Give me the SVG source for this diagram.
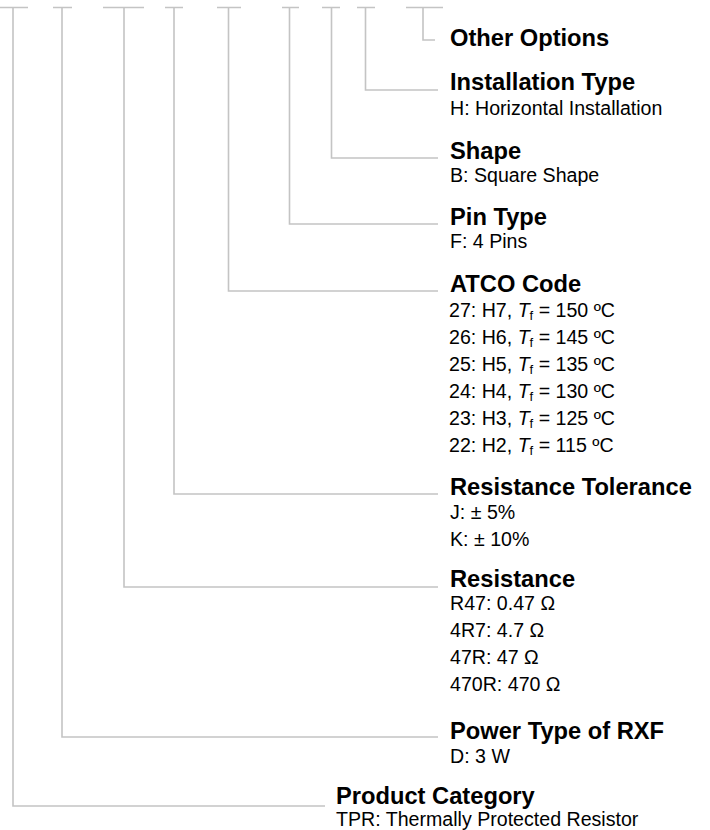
<svg xmlns="http://www.w3.org/2000/svg" width="710" height="830" viewBox="0 0 710 830">
<style>
text{font-family:"Liberation Sans",Arial,Helvetica,sans-serif;fill:#000}
.h{font-weight:bold;font-size:23.7px}
.t{font-size:19.6px}
.sub{font-size:13px}
.c path{fill:none;stroke:#c4c4c4;stroke-width:1.6}
</style>
<rect width="710" height="830" fill="#fff"/>
<g id="connectors" class="c">
<path d="M0,7.5H28M13,7.5V806H325"/>
<path d="M53,7.5H72M62,7.5V737H438"/>
<path d="M103,7.5H144M124,7.5V587H438"/>
<path d="M165,7.5H183M174,7.5V494H438"/>
<path d="M217,7.5H241M228.5,7.5V291H438"/>
<path d="M282,7.5H299M289.5,7.5V224H438"/>
<path d="M322,7.5H340M331.5,7.5V158H438"/>
<path d="M357,7.5H375M365.5,7.5V90H438"/>
<path d="M406,7.5H443M423,7.5V40H435"/>
</g>
<g id="other-options"><text class="h" x="450" y="46">Other Options</text></g>
<g id="installation-type"><text class="h" x="450" y="90">Installation Type</text><text class="t" x="450" y="114.5">H: Horizontal Installation</text></g>
<g id="shape"><text class="h" x="450" y="159">Shape</text><text class="t" x="450" y="182">B: Square Shape</text></g>
<g id="pin-type"><text class="h" x="450" y="225">Pin Type</text><text class="t" x="450" y="248">F: 4 Pins</text></g>
<g id="atco-code"><text class="h" x="450" y="292">ATCO Code</text>
<text class="t" x="449" y="317">27: H7, <tspan font-style="italic">T</tspan><tspan class="sub" dy="3">f</tspan><tspan dy="-3"> = 150 ºC</tspan></text>
<text class="t" x="449" y="344">26: H6, <tspan font-style="italic">T</tspan><tspan class="sub" dy="3">f</tspan><tspan dy="-3"> = 145 ºC</tspan></text>
<text class="t" x="449" y="371">25: H5, <tspan font-style="italic">T</tspan><tspan class="sub" dy="3">f</tspan><tspan dy="-3"> = 135 ºC</tspan></text>
<text class="t" x="449" y="398">24: H4, <tspan font-style="italic">T</tspan><tspan class="sub" dy="3">f</tspan><tspan dy="-3"> = 130 ºC</tspan></text>
<text class="t" x="449" y="425">23: H3, <tspan font-style="italic">T</tspan><tspan class="sub" dy="3">f</tspan><tspan dy="-3"> = 125 ºC</tspan></text>
<text class="t" x="449" y="452">22: H2, <tspan font-style="italic">T</tspan><tspan class="sub" dy="3">f</tspan><tspan dy="-3"> = 115 ºC</tspan></text>
</g>
<g id="resistance-tolerance"><text class="h" x="450" y="495">Resistance Tolerance</text><text class="t" x="450" y="518.5">J: ± 5%</text><text class="t" x="450" y="545.5">K: ± 10%</text></g>
<g id="resistance"><text class="h" x="450" y="587">Resistance</text><text class="t" x="450" y="609.5">R47: 0.47 Ω</text><text class="t" x="450" y="636.5">4R7: 4.7 Ω</text><text class="t" x="450" y="663.5">47R: 47 Ω</text><text class="t" x="450" y="690.5">470R: 470 Ω</text></g>
<g id="power-type"><text class="h" x="450" y="739">Power Type of RXF</text><text class="t" x="450" y="763">D: 3 W</text></g>
<g id="product-category"><text class="h" x="336" y="803.5">Product Category</text><text class="t" x="336" y="826">TPR: Thermally Protected Resistor</text></g>
</svg>
